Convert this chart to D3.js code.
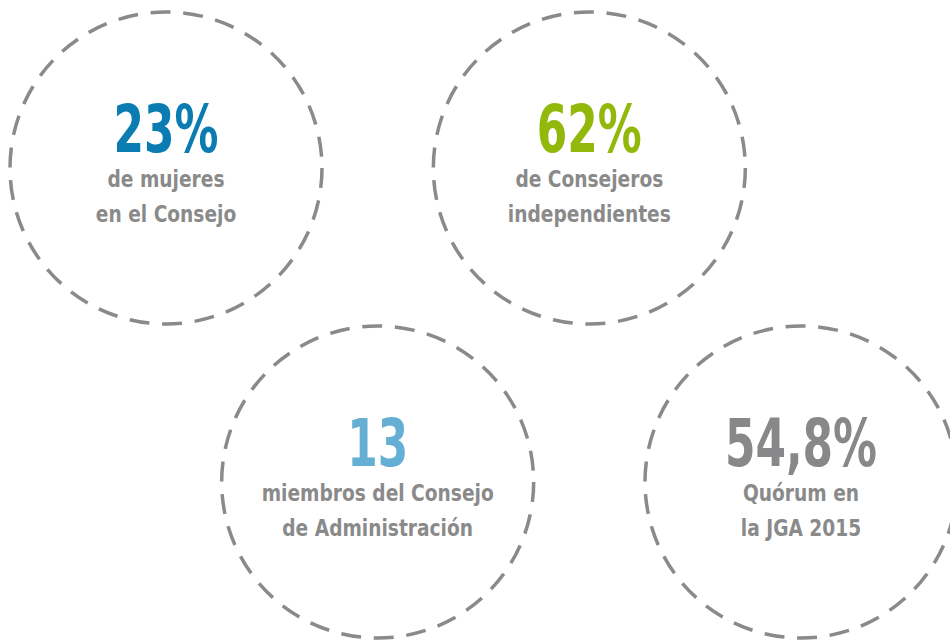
<!DOCTYPE html>
<html>
<head>
<meta charset="utf-8">
<script src="https://cdn.jsdelivr.net/npm/d3@7"></script>
<style>
  html, body { margin: 0; padding: 0; background: #fff; }
  svg { display: block; }
  text { font-family: "DejaVu Sans Condensed", "DejaVu Sans", sans-serif; font-weight: bold; }
</style>
</head>
<body>
<div id="chart"></div>
<script>
// datos: orden en zigzag (arriba, abajo, arriba, abajo)
const figures = ["23%", "13", "62%", "54,8%"];
const captions = [
  ["de mujeres", "en el Consejo"],
  ["miembros del Consejo", "de Administración"],
  ["de Consejeros", "independientes"],
  ["Quórum en", "la JGA 2015"]
];
const figureColors = ["#0a7cb2", "#64afd3", "#93b80c", "#88888a"];

const width = 950;
const height = 640;

const svg = d3.select("#chart")
  .append("svg")
  .attr("width", width)
  .attr("height", height);

// escalas de posición
const x = d3.scaleLinear().domain([0, figures.length - 1]).range([166, 801]);
const y = d3.scalePoint().domain([0, 1]).range([168, 482]);
const r = 156;

const items = svg.selectAll("g.item")
  .data(figures)
  .join("g")
  .attr("class", "item")
  .attr("transform", (d, i) => `translate(${x(i)},${y(i % 2)})`);

// círculo discontinuo
items.append("circle")
  .attr("r", r)
  .attr("fill", "none")
  .attr("stroke", "#8a8a8a")
  .attr("stroke-width", 3.5)
  .attr("stroke-dasharray", "20,12.7");

// cifra principal (fuente estrechada horizontalmente)
items.append("text")
  .attr("transform", "translate(0,-16) scale(0.75,1)")
  .attr("text-anchor", "middle")
  .attr("font-size", 65)
  .attr("fill", (d, i) => figureColors[i])
  .text(d => d);

// texto descriptivo
items.each(function (d, i) {
  d3.select(this).selectAll("text.cap")
    .data(captions[i])
    .join("text")
    .attr("class", "cap")
    .attr("transform", (c, j) => `translate(0,${19 + j * 35}) scale(0.92,1)`)
    .attr("text-anchor", "middle")
    .attr("font-size", 22.5)
    .attr("fill", "#8a8a8a")
    .text(c => c);
});
</script>
</body>
</html>
